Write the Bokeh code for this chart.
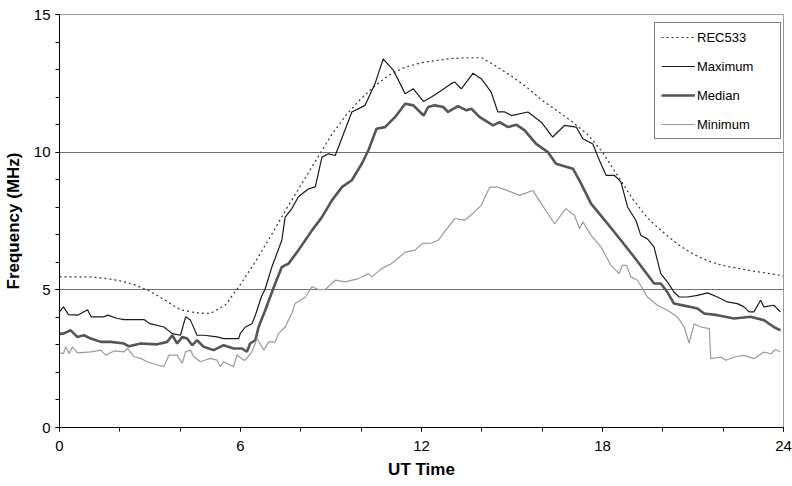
from bokeh.plotting import figure
from bokeh.models import Range1d, FixedTicker, Legend, LegendItem
from bokeh.embed import file_html
from bokeh.resources import INLINE

# ---------------- data ----------------
rec_x = [0, 0.5, 1, 1.5, 2, 2.5, 3, 3.5, 4, 4.5, 5, 5.5, 6, 6.5, 7, 7.5, 8, 8.5, 9, 9.5,
         10, 10.5, 11, 11.5, 12, 12.5, 13, 13.5, 14, 14.5, 15, 15.5, 16, 16.5, 17, 17.5,
         18, 18.5, 19, 19.5, 20, 20.5, 21, 21.5, 22, 22.5, 23, 23.5, 24]
rec_y = [5.47, 5.47, 5.47, 5.42, 5.33, 5.18, 4.95, 4.62, 4.28, 4.17, 4.14, 4.45, 5.2, 6.03,
         6.95, 7.9, 8.8, 9.7, 10.6, 11.35, 11.95, 12.45, 12.85, 13.1, 13.25, 13.33, 13.4,
         13.43, 13.43, 13.1, 12.75, 12.35, 11.88, 11.5, 11.1, 10.65, 10.0, 9.15, 8.3, 7.6,
         7.1, 6.65, 6.3, 6.05, 5.88, 5.78, 5.68, 5.6, 5.5]

max_x = [0.0, 0.13, 0.3, 0.6, 0.93, 1.05, 1.48, 1.6, 1.92, 2.14, 2.8, 3.0, 3.46, 3.74, 4.01,
         4.18, 4.34, 4.56, 4.8, 5.22, 5.44, 5.72, 5.94, 5.99, 6.16, 6.38, 6.49, 6.69, 6.82,
         7.04, 7.37, 7.48, 7.70, 7.92, 8.26, 8.48, 8.70, 8.92, 9.14, 9.25, 9.69, 10.13,
         10.46, 10.73, 11.07, 11.46, 11.73, 12.07, 12.33, 12.66, 12.99, 13.10, 13.32, 13.71,
         13.98, 14.31, 14.53, 14.76, 14.98, 15.53, 15.97, 16.35, 16.74, 17.13, 17.35, 17.68,
         17.90, 18.12, 18.39, 18.61, 18.83, 19.11, 19.27, 19.49, 19.71, 19.93, 20.15, 20.37,
         20.54, 20.82, 21.15, 21.48, 21.81, 22.14, 22.47, 22.69, 22.86, 23.02, 23.24, 23.35,
         23.68, 23.90]
max_y = [4.2, 4.38, 4.1, 4.08, 4.28, 4.02, 4.02, 4.08, 3.96, 3.92, 3.92, 3.77, 3.65, 3.41,
         3.35, 4.02, 3.9, 3.35, 3.35, 3.29, 3.23, 3.23, 3.23, 3.41, 3.65, 3.77, 4.07, 4.74,
         5.04, 5.83, 6.80, 7.64, 7.95, 8.38, 8.67, 8.74, 9.82, 9.94, 9.88, 10.19, 11.46,
         11.70, 12.49, 13.39, 12.97, 12.12, 12.30, 11.84, 12.00, 12.24, 12.49, 12.55, 12.30,
         12.87, 12.67, 12.18, 11.46, 11.46, 11.33, 11.46, 11.09, 10.55, 10.97, 10.91, 10.49,
         10.30, 9.70, 9.16, 9.16, 8.92, 8.01, 7.52, 6.98, 6.85, 6.55, 5.59, 5.29, 4.92, 4.74,
         4.74, 4.80, 4.89, 4.74, 4.56, 4.50, 4.38, 4.20, 4.20, 4.62, 4.38, 4.44, 4.20]

med_x = [0.0, 0.13, 0.37, 0.59, 0.81, 1.04, 1.37, 1.70, 2.14, 2.30, 2.69, 3.24, 3.57, 3.74,
         3.90, 4.07, 4.23, 4.40, 4.56, 4.78, 5.11, 5.44, 5.77, 6.05, 6.21, 6.32, 6.49, 6.60,
         6.82, 7.15, 7.37, 7.59, 7.92, 8.37, 8.70, 9.03, 9.37, 9.69, 10.02, 10.24, 10.51,
         10.79, 11.12, 11.46, 11.73, 12.07, 12.22, 12.44, 12.72, 12.88, 13.21, 13.49, 13.65,
         13.93, 14.37, 14.59, 14.87, 15.14, 15.42, 15.80, 16.19, 16.46, 17.02, 17.29, 17.62,
         17.90, 18.17, 18.61, 19.05, 19.38, 19.71, 19.93, 20.15, 20.37, 20.82, 21.15, 21.37,
         21.81, 22.36, 22.91, 23.35, 23.68, 23.90]
med_y = [3.4, 3.41, 3.53, 3.29, 3.35, 3.23, 3.11, 3.11, 3.05, 2.95, 3.05, 3.02, 3.11, 3.35,
         3.05, 3.29, 3.23, 2.99, 3.17, 2.93, 2.81, 2.99, 2.87, 2.87, 2.75, 3.05, 3.17, 3.65,
         4.26, 5.23, 5.83, 5.95, 6.44, 7.16, 7.64, 8.25, 8.74, 8.98, 9.58, 10.07, 10.85,
         10.91, 11.27, 11.76, 11.70, 11.33, 11.64, 11.70, 11.64, 11.46, 11.67, 11.52, 11.58,
         11.27, 10.97, 11.09, 10.91, 11.00, 10.79, 10.30, 10.00, 9.58, 9.40, 8.86, 8.13,
         7.76, 7.40, 6.80, 6.19, 5.71, 5.23, 5.23, 4.92, 4.50, 4.40, 4.32, 4.14, 4.08, 3.96,
         4.02, 3.90, 3.65, 3.53]

min_x = [0.0, 0.13, 0.21, 0.32, 0.43, 0.59, 1.04, 1.37, 1.53, 1.81, 2.14, 2.25, 2.47, 2.69,
         2.91, 3.24, 3.46, 3.63, 3.90, 4.07, 4.18, 4.34, 4.45, 4.67, 5.0, 5.22, 5.33, 5.44,
         5.77, 5.88, 6.10, 6.16, 6.38, 6.55, 6.77, 6.94, 7.15, 7.26, 7.48, 7.70, 7.81, 8.15,
         8.37, 8.59, 8.81, 9.14, 9.47, 9.91, 10.24, 10.35, 10.68, 11.00, 11.46, 11.79, 12.01,
         12.33, 12.55, 13.10, 13.43, 13.76, 13.98, 14.26, 14.53, 14.98, 15.25, 15.69, 15.97,
         16.41, 16.79, 17.07, 17.24, 17.35, 17.62, 17.95, 18.28, 18.55, 18.66, 18.80, 18.94,
         19.16, 19.49, 19.82, 20.15, 20.48, 20.71, 20.87, 21.04, 21.26, 21.54, 21.59, 21.92,
         22.09, 22.36, 22.69, 23.02, 23.35, 23.57, 23.74, 23.90]
min_y = [2.7, 2.69, 2.93, 2.69, 2.93, 2.71, 2.75, 2.81, 2.63, 2.78, 2.75, 2.87, 2.57, 2.51,
         2.39, 2.27, 2.21, 2.63, 2.63, 2.33, 2.75, 2.81, 2.57, 2.39, 2.51, 2.45, 2.21, 2.39,
         2.21, 2.63, 2.45, 2.45, 2.75, 3.23, 2.81, 3.11, 3.11, 3.41, 3.65, 4.14, 4.50, 4.74,
         5.11, 5.01, 5.01, 5.35, 5.29, 5.41, 5.59, 5.47, 5.77, 5.95, 6.37, 6.44, 6.68, 6.70,
         6.80, 7.59, 7.53, 7.83, 8.07, 8.73, 8.73, 8.55, 8.43, 8.61, 8.13, 7.40, 7.95, 7.71,
         7.22, 7.47, 6.98, 6.56, 5.89, 5.59, 5.89, 5.89, 5.47, 5.35, 4.74, 4.44, 4.26, 4.02,
         3.65, 3.07, 3.77, 3.65, 3.59, 2.50, 2.56, 2.44, 2.56, 2.62, 2.50, 2.74, 2.68, 2.83,
         2.74]

series_names = ["REC533", "Maximum", "Median", "Minimum"]
x_major = [0, 6, 12, 18, 24]
x_minor = list(range(0, 25, 2))
y_major = [0, 5, 10, 15]
y_minor = list(range(0, 16))

FONT = "Liberation Sans"

p = figure(width=792, height=486, output_backend="svg", toolbar_location=None,
           x_range=Range1d(0, 24), y_range=Range1d(0, 15),
           min_border_left=57, min_border_right=9, min_border_top=14, min_border_bottom=59)
p.background_fill_color = "white"
p.border_fill_color = "white"
p.outline_line_color = "#9a9a9a"
p.outline_line_width = 1

# grid
p.xgrid.visible = False
p.ygrid.ticker = FixedTicker(ticks=[5, 10, 15])
p.ygrid.grid_line_color = "#707070"
p.ygrid.grid_line_width = 1

# axes
for ax in (p.xaxis[0], p.yaxis[0]):
    ax.axis_line_color = "black"
    ax.major_tick_line_color = "black"
    ax.minor_tick_line_color = "black"
    ax.major_tick_in = 0
    ax.major_tick_out = 4
    ax.minor_tick_in = 0
    ax.minor_tick_out = 4
    ax.major_label_text_font = FONT
    ax.major_label_text_font_size = "15px"
    ax.major_label_text_color = "black"
    ax.axis_label_text_font = FONT
    ax.axis_label_text_font_size = "17px"
    ax.axis_label_text_font_style = "bold"
    ax.axis_label_text_color = "black"

p.xaxis.ticker = FixedTicker(ticks=x_major, minor_ticks=x_minor)
p.yaxis.ticker = FixedTicker(ticks=y_major, minor_ticks=y_minor)
p.xaxis.axis_label = "UT Time"
p.yaxis.axis_label = "Frequency (MHz)"
p.xaxis.major_label_standoff = 9
p.yaxis.major_label_standoff = 5
p.xaxis.axis_label_standoff = 6
p.yaxis.axis_label_standoff = 8

r_rec = p.line(rec_x, rec_y, line_color="#333333", line_width=1.2, line_dash="2 3")
r_max = p.line(max_x, max_y, line_color="#1a1a1a", line_width=1.2)
r_med = p.line(med_x, med_y, line_color="#555555", line_width=2.6)
r_min = p.line(min_x, min_y, line_color="#9a9a9a", line_width=1.2)

legend = Legend(items=[LegendItem(label=series_names[0], renderers=[r_rec]),
                       LegendItem(label=series_names[1], renderers=[r_max]),
                       LegendItem(label=series_names[2], renderers=[r_med]),
                       LegendItem(label=series_names[3], renderers=[r_min])],
                location=(595, 288))
legend.border_line_color = "black"
legend.border_line_width = 1
legend.background_fill_color = "white"
legend.background_fill_alpha = 1
legend.label_text_font = FONT
legend.label_text_font_size = "13px"
legend.label_text_color = "black"
legend.glyph_width = 34
legend.glyph_height = 16
legend.label_height = 16
legend.label_width = 77
legend.label_standoff = 2
legend.spacing = 13
legend.padding = 6
legend.margin = 0
p.add_layout(legend, "center")

open("out.html", "w").write(file_html(p, INLINE))
